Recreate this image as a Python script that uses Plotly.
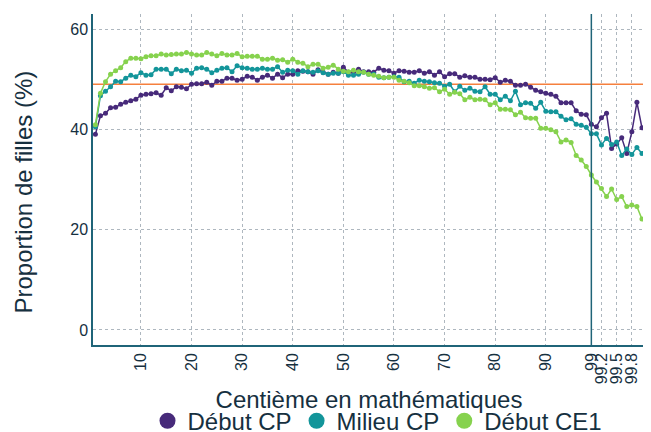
import plotly.graph_objects as go

centiemes = [str(i) for i in range(1, 100)] + ["99.1", "99.2", "99.3", "99.4", "99.5", "99.6", "99.7", "99.8", "99.9", "100"]

debut_cp = [
    39.0, 42.7, 43.2, 44.3, 44.4, 45.0, 45.4, 45.7, 46.0, 46.8,
    47.0, 47.1, 47.3, 46.8, 48.3, 47.7, 48.5, 48.4, 48.1, 49.0,
    49.1, 49.1, 49.4, 48.8, 49.6, 49.6, 50.2, 50.2, 49.8, 50.0,
    50.6, 50.4, 49.8, 50.4, 50.8, 50.2, 51.0, 50.3, 51.0, 51.0,
    51.7, 51.6, 51.5, 51.0, 51.9, 51.4, 51.0, 51.4, 51.2, 52.4,
    51.4, 51.4, 52.0, 51.5, 51.5, 51.4, 52.2, 51.8, 51.7, 51.2,
    51.7, 51.6, 51.4, 51.4, 51.7, 51.2, 51.5, 50.8, 51.5, 50.5,
    51.1, 51.1, 50.4, 50.7, 50.4, 50.4, 50.0, 50.0, 49.9, 50.3,
    49.4, 49.8, 49.6, 48.8, 48.8, 49.0, 48.4, 47.8, 47.5, 47.2,
    47.0, 46.6, 45.3, 45.3, 45.3, 43.7, 43.0, 42.9, 41.0, 40.5,
    42.3, 43.2, 36.2, 37.1, 38.3, 35.2, 39.5, 45.4, 40.3,
]

milieu_cp = [
    40.5, 46.7, 47.6, 48.5, 49.6, 49.5, 50.2, 50.8, 50.5, 51.3,
    50.8, 50.9, 52.0, 52.0, 52.0, 51.1, 52.0, 51.7, 51.8, 51.2,
    52.2, 52.3, 52.0, 51.3, 51.8, 52.2, 52.3, 51.5, 52.7, 52.3,
    52.2, 52.0, 52.0, 52.2, 52.0, 52.0, 52.5, 51.4, 51.8, 51.7,
    51.0, 51.7, 51.5, 51.4, 51.7, 51.3, 51.0, 51.2, 51.2, 51.5,
    50.8, 50.8, 51.0, 51.4, 51.0, 51.0, 50.4, 50.3, 50.4, 50.5,
    50.4, 49.5, 49.6, 49.2, 49.8, 49.6, 49.5, 49.3, 49.2, 48.6,
    49.0, 47.5, 48.6, 47.8, 48.2, 47.6, 47.5, 48.5, 47.0, 47.0,
    45.9, 46.6, 45.7, 47.6, 44.9, 45.3, 45.2, 44.2, 45.4, 43.6,
    43.5, 43.5, 42.6, 41.9, 42.1, 41.0, 40.8, 40.4, 39.1, 39.1,
    36.9, 38.2, 37.0, 37.5, 34.8, 36.1, 35.0, 36.4, 35.2,
]

debut_ce1 = [
    40.9, 47.2, 49.5, 51.0, 51.7, 52.3, 53.5, 54.2, 54.2, 54.1,
    54.5, 54.7, 54.7, 55.0, 54.8, 54.9, 55.0, 55.0, 55.3, 55.0,
    54.8, 54.8, 55.3, 55.0, 54.7, 55.1, 54.8, 54.8, 55.1, 54.5,
    54.6, 54.6, 54.6, 54.0, 54.0, 54.2, 53.8, 53.9, 53.4, 54.0,
    53.4, 53.2, 52.5, 53.0, 53.0, 52.2, 52.4, 52.8, 52.0, 51.6,
    51.5, 51.8, 51.5, 51.4, 51.0, 50.8, 50.6, 50.3, 50.4, 50.4,
    49.8, 49.6, 49.3, 48.7, 48.7, 48.5, 48.2, 48.3, 47.5, 48.0,
    47.0, 47.4, 47.1, 45.9, 46.4, 45.9, 46.0, 45.9, 44.9, 45.3,
    44.0, 44.0, 43.9, 42.9, 43.4, 42.3, 42.2, 42.2, 40.2, 40.2,
    39.9, 39.5, 37.5, 37.9, 37.4, 34.8, 33.9, 32.6, 30.9, 29.5,
    28.2, 26.6, 28.1, 26.0, 26.6, 24.6, 24.9, 24.6, 22.1,
]

series_names = ["Début CP", "Milieu CP", "Début CE1"]
series_colors = ["#472A7A", "#13959A", "#86D24E"]
tick_labels = ["10", "20", "30", "40", "50", "60", "70", "80", "90", "99", "99.2", "99.5", "99.8"]
reference_level = 49
split_label = "99"
y_title = "Proportion de filles (%)"
x_title = "Centième en mathématiques"

text_color = "#16303F"
axis_color = "#1F6478"
grid_color = "#AEB7BF"
font_family = "Liberation Sans, Arial, sans-serif"

fig = go.Figure()
for name, values, color in zip(series_names, [debut_cp, milieu_cp, debut_ce1], series_colors):
    fig.add_trace(go.Scatter(
        x=centiemes, y=values, mode="lines+markers", name=name,
        line=dict(color=color, width=1.5),
        marker=dict(color=color, size=5),
        showlegend=False, cliponaxis=False,
    ))
for name, color in zip(series_names, series_colors):
    fig.add_trace(go.Scatter(
        x=[None], y=[None], mode="markers", name=name,
        marker=dict(color=color, size=17),
        showlegend=True,
    ))

fig.add_hline(y=reference_level, line=dict(color="#F5803E", width=1.5), layer="below")
fig.add_vline(x=centiemes.index(split_label), line=dict(color=axis_color, width=1.5))

fig.add_annotation(
    text=y_title, textangle=-90, showarrow=False,
    xref="paper", yref="paper", x=-0.1259, y=0.4622,
    xanchor="center", yanchor="middle",
    font=dict(size=24, color=text_color),
)

fig.update_layout(
    width=637, height=424,
    margin=dict(l=85, r=0, t=6, b=87, autoexpand=False),
    paper_bgcolor="white", plot_bgcolor="white",
    font=dict(family=font_family, color=text_color, size=16),
    legend=dict(
        orientation="h", x=0.5154, xanchor="center", y=-0.23, yanchor="middle",
        font=dict(size=24, color=text_color), itemsizing="trace",
        bgcolor="rgba(0,0,0,0)", tracegroupgap=0,
    ),
)
fig.update_xaxes(
    type="category", categoryorder="array", categoryarray=centiemes,
    range=[-0.47, 108.6], automargin=False,
    tickmode="array", tickvals=tick_labels, ticktext=tick_labels,
    tickangle=-90, tickfont=dict(size=16, color=text_color),
    showgrid=True, gridcolor=grid_color, griddash="dot", gridwidth=1,
    showline=True, linecolor=axis_color, linewidth=1.5,
    ticks="", zeroline=False,
    title=dict(text=x_title, font=dict(size=24, color=text_color), standoff=8),
)
fig.update_yaxes(
    range=[-3.0, 63.0], automargin=False,
    tickmode="array", tickvals=[0, 20, 40, 60],
    tickfont=dict(size=16, color=text_color),
    showgrid=True, gridcolor=grid_color, griddash="dot", gridwidth=1,
    showline=True, linecolor=axis_color, linewidth=1.5,
    ticks="", zeroline=False,
)

fig.write_html("out.html")
